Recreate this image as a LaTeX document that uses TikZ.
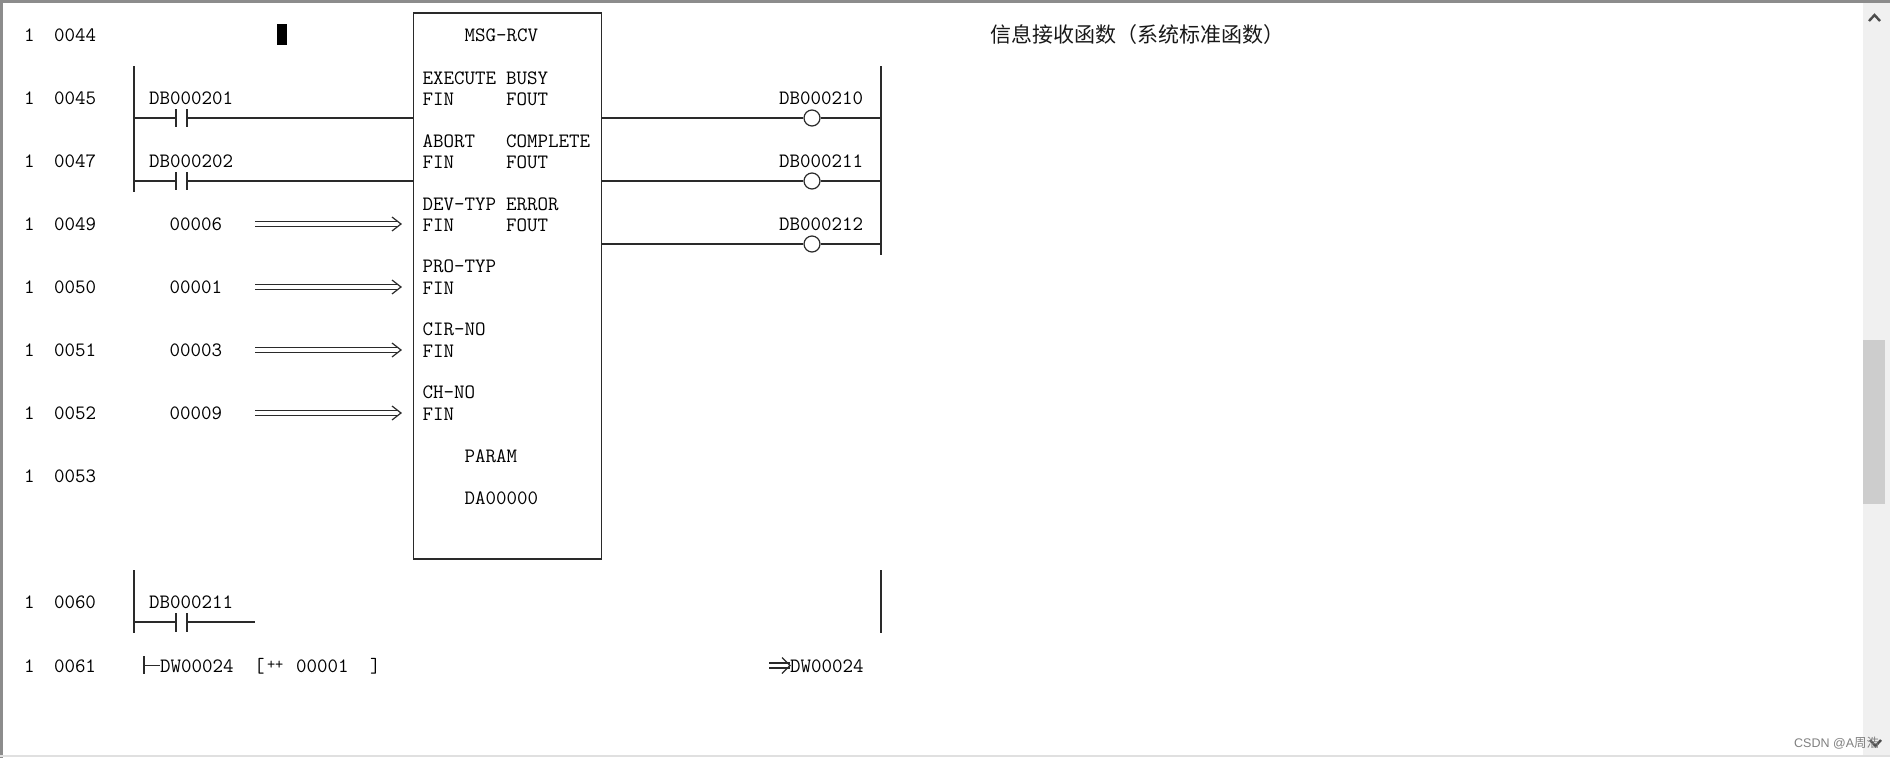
\documentclass[tikz,border=0pt]{standalone}
\usepackage{fontspec}
\newfontfamily\cjk{Noto Sans CJK SC}
\newfontfamily\wm{Liberation Sans}
\definecolor{ink}{HTML}{2A2A2A}
\definecolor{frameg}{HTML}{8C8C8C}
\definecolor{barbg}{HTML}{F0F0F0}
\definecolor{thumb}{HTML}{CDCDCD}
\tikzset{
  wire/.style={draw=ink,line width=1.2pt},
  dbl/.style={draw=ink,line width=1.4pt},
  lbl/.style={anchor=west,inner sep=0pt,outer sep=0pt,text height=13pt,text depth=0pt,text=black,font=\ttfamily\fontsize{20.4}{20.4}\selectfont\addfontfeatures{FakeBold=0.25}},
  coil/.style={circle,draw=ink,fill=white,line width=1.2pt,minimum size=16pt,inner sep=0pt},
  fb/.style={rectangle,draw=ink,line width=1.2pt,minimum width=188.5pt,minimum height=546pt,inner sep=0pt},
  sbtn/.style={draw=black!70,line width=2.4pt,line join=miter}
}
\begin{document}
\begin{tikzpicture}[x=1pt,y=-1pt]
\useasboundingbox (0,0) rectangle (1890,758);
\fill[white] (0,0) rectangle (1890,758);
% window frame and scroll bar
\fill[barbg] (1863,3) rectangle (1890,755);
\fill[thumb] (1863,340) rectangle (1885,504);
\fill[frameg] (0,0) rectangle (1890,3);
\fill[frameg] (0,0) rectangle (3,758);
\fill[black!12] (0,755) rectangle (1890,757);
\draw[sbtn] (1869,21) -- (1874.5,15) -- (1880,21);
\draw[sbtn] (1870,740) -- (1875.5,746) -- (1881,740);
% line numbers
\foreach \nm/\yy in {0044/35,0045/98,0047/161,0049/224,0050/287,0051/350,0052/413,0053/476,0060/602,0061/665.5}{
  \node[lbl] (one\nm) at (24,\yy) {1};
  \node[lbl] (num\nm) at (54,\yy) {\nm};
}
% cursor
\fill[black] (276.5,24) rectangle (287,45);
% function block
\node[fb] (block) at (507.5,286) {};
\node[lbl] (title) at (464.5,35) {MSG-RCV};
\foreach \tn/\tx/\xx/\yy in {
  a/EXECUTE/422.5/77.5, b/FIN/422.5/98.5, c/BUSY/506/77.5, d/FOUT/506/98.5,
  e/ABORT/422.5/140.5, f/FIN/422.5/161.5, g/COMPLETE/506/140.5, h/FOUT/506/161.5,
  i/DEV-TYP/422.5/203.5, j/FIN/422.5/224.5, k/ERROR/506/203.5, l/FOUT/506/224.5,
  m/PRO-TYP/422.5/266, n/FIN/422.5/287.5,
  o/CIR-NO/422.5/329, p/FIN/422.5/350.5,
  q/CH-NO/422.5/392, r/FIN/422.5/413.5,
  s/PARAM/464.5/455.5, t/DA00000/464.5/497.5}{
  \node[lbl] (blk\tn) at (\xx,\yy) {\tx};
}
% power rails
\coordinate (railLa) at (134,66);
\coordinate (railLb) at (134,192);
\coordinate (railRa) at (881,66);
\coordinate (railRb) at (881,255);
\draw[wire] (railLa) -- (railLb);
\draw[wire] (railRa) -- (railRb);
% contacts at the block inputs
\foreach \cn/\tx/\yy in {c1/DB000201/118,c2/DB000202/181}{
  \node[lbl] (\cn t) at (149,\yy-20) {\tx};
  \coordinate (\cn l) at (176,\yy);
  \coordinate (\cn r) at (187,\yy);
  \draw[wire] (railLa |- \cn l) -- (\cn l);
  \draw[wire] (\cn l |- 0,\yy-9) -- (\cn l |- 0,\yy+9);
  \draw[wire] (\cn r |- 0,\yy-9) -- (\cn r |- 0,\yy+9);
  \draw[wire] (\cn r) -- (block.west |- \cn r);
}
% output coils
\foreach \cn/\tx/\yy in {o1/DB000210/118,o2/DB000211/181,o3/DB000212/244}{
  \node[lbl] (\cn t) at (779,\yy-20) {\tx};
  \node[coil] (\cn) at (812,\yy) {};
  \draw[wire] (block.east |- \cn) -- (\cn);
  \draw[wire] (\cn) -- (railRa |- \cn);
}
% constant inputs
\foreach \an/\tx/\yy in {a1/00006/224,a2/00001/287,a3/00003/350,a4/00009/413}{
  \node[lbl] (\an) at (169.5,\yy) {\tx};
  \coordinate (\an s) at (255,\yy);
  \coordinate (\an e) at (401,\yy);
  \draw[dbl] ([yshift=-2.4pt]\an s) -- ([xshift=-3pt,yshift=-2.4pt]\an e);
  \draw[dbl] ([yshift=2.4pt]\an s) -- ([xshift=-3pt,yshift=2.4pt]\an e);
  \draw[wire] ([xshift=-9pt,yshift=-7pt]\an e) -- (\an e) -- ([xshift=-9pt,yshift=7pt]\an e);
}
% second rung
\coordinate (railLc) at (134,570);
\coordinate (railLd) at (134,633);
\coordinate (railRc) at (881,570);
\coordinate (railRd) at (881,633);
\draw[wire] (railLc) -- (railLd);
\draw[wire] (railRc) -- (railRd);
\node[lbl] (c3t) at (149,602) {DB000211};
\coordinate (c3l) at (176,622);
\coordinate (c3r) at (187,622);
\coordinate (c3e) at (255,622);
\draw[wire] (railLc |- c3l) -- (c3l);
\draw[wire] (176,613) -- (176,632);
\draw[wire] (187,613) -- (187,632);
\draw[wire] (c3r) -- (c3e);
% increment instruction
\node[lbl] (inA) at (160,665.5) {DW00024};
\coordinate (tick) at (144,665.5);
\draw[wire] (144,656) -- (144,674);
\draw[wire] (tick) -- (inA.west);
\node[lbl] (inB) at (254,665.5) {[};
\node[lbl,font=\ttfamily\fontsize{16}{16}\selectfont\addfontfeatures{FakeBold=0.25},text height=9pt] (inC) at (267,664.5) {++};
\node[lbl] (inD) at (296,665.5) {00001};
\node[lbl] (inE) at (370,665.5) {]};
\node[lbl] (inF) at (790,665.5) {DW00024};
\coordinate (inS) at (769,665.5);
\draw[wire] ([yshift=-2.5pt]inS) -- ([yshift=-2.5pt]inF.west);
\draw[wire] ([yshift=2.5pt]inS) -- ([yshift=2.5pt]inF.west);
\draw[wire] ([xshift=-8pt,yshift=-8pt]inF.west) -- (inF.west) -- ([xshift=-8pt,yshift=8pt]inF.west);
% comment
\node[anchor=west,inner sep=0pt,font=\cjk\fontsize{21}{21}\selectfont,text=black!90] (comment) at (990,35) {信息接收函数（系统标准函数）};
% watermark
\node[anchor=west,inner sep=0pt,font=\wm\fontsize{12.5}{12.5}\selectfont,text=black!50] (mark) at (1794,743) {CSDN @A{\cjk 周浩}};
\end{tikzpicture}
\end{document}
